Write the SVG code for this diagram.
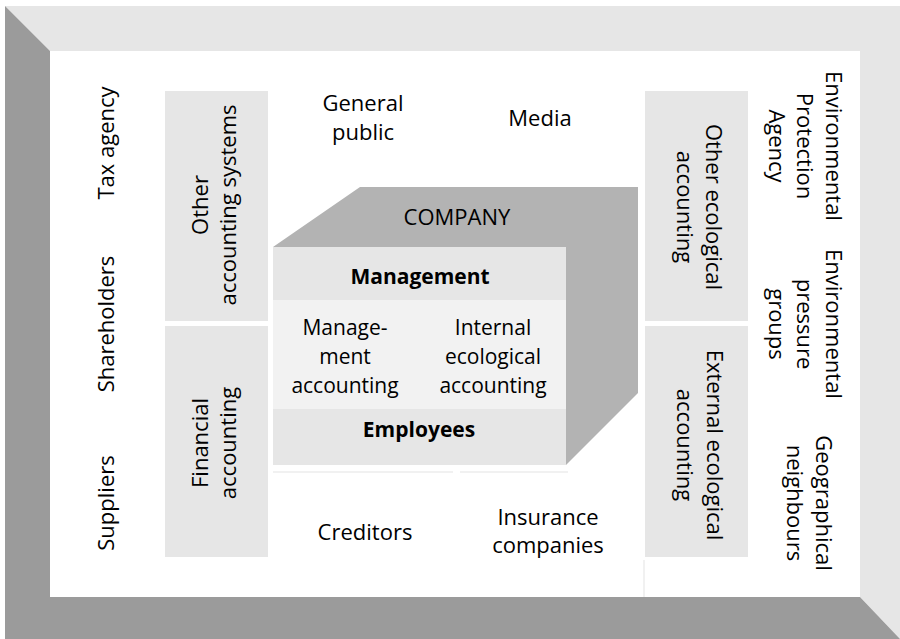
<svg xmlns="http://www.w3.org/2000/svg" width="900" height="639" viewBox="0 0 900 639">
<style>
text{font-family:"Open Sans","Noto Sans",sans-serif;font-size:22px;fill:#000;text-anchor:middle}
.b{font-weight:bold;font-size:21px}
.m{font-size:21px}
.box{fill:#e6e6e6}
.faint{stroke:#ececec;stroke-width:1.5;fill:none}
</style>
<rect width="900" height="639" fill="#fff"/>
<g id="frame">
<polygon points="5,6 900,6 900,639 860,597 860,51 50,51" fill="#e6e6e6"/>
<polygon points="5,6 50,51 50,597 860,597 900,639 5,639" fill="#9b9b9b"/>
<rect x="50" y="51" width="810" height="546" fill="#fff"/>
</g>
<g id="connectors">
<line class="faint" x1="273" y1="472" x2="453" y2="472"/>
<line class="faint" x1="460" y1="472" x2="568" y2="472"/>
<line class="faint" x1="644" y1="560" x2="644" y2="597"/>
</g>
<g id="tax-agency"><text transform="translate(114,143) rotate(-90)">Tax agency</text></g>
<g id="shareholders"><text transform="translate(114,324) rotate(-90)">Shareholders</text></g>
<g id="suppliers"><text transform="translate(114,503) rotate(-90)">Suppliers</text></g>
<g id="other-accounting">
<rect class="box" x="165" y="91" width="103" height="230"/>
<text transform="translate(208,205) rotate(-90)">Other</text>
<text transform="translate(236,205) rotate(-90)">accounting systems</text>
</g>
<g id="financial-accounting">
<rect class="box" x="165" y="326" width="103" height="231"/>
<text transform="translate(208,443) rotate(-90)">Financial</text>
<text transform="translate(236,443) rotate(-90)">accounting</text>
</g>
<g id="general-public"><text x="363" y="111">General</text><text x="363" y="140">public</text></g>
<g id="media"><text x="540" y="126">Media</text></g>
<g id="company">
<polygon points="273,247 360,187 638,187 638,393 566,465 566,247" fill="#b3b3b3"/>
<text x="457" y="225">COMPANY</text>
<rect x="273" y="247" width="293" height="53" fill="#e6e6e6"/>
<rect x="273" y="300" width="293" height="109" fill="#f2f2f2"/>
<rect x="273" y="409" width="293" height="56" fill="#e6e6e6"/>
</g>
<g id="management"><text class="b" x="420" y="284">Management</text></g>
<g id="management-accounting"><text class="m" x="345" y="335">Manage-</text><text class="m" x="345" y="364">ment</text><text class="m" x="345" y="393">accounting</text></g>
<g id="internal-ecological-accounting"><text class="m" x="493" y="335">Internal</text><text class="m" x="493" y="364">ecological</text><text class="m" x="493" y="393">accounting</text></g>
<g id="employees"><text class="b" x="419" y="437">Employees</text></g>
<g id="creditors"><text x="365" y="540">Creditors</text></g>
<g id="insurance-companies"><text x="548" y="525">Insurance</text><text x="548" y="553">companies</text></g>
<g id="other-ecological-accounting">
<rect class="box" x="645" y="91" width="103" height="230"/>
<text transform="translate(706,207) rotate(90)">Other ecological</text>
<text transform="translate(677,207) rotate(90)">accounting</text>
</g>
<g id="external-ecological-accounting">
<rect class="box" x="645" y="326" width="103" height="231"/>
<text transform="translate(707,445) rotate(90)">External ecological</text>
<text transform="translate(677,445) rotate(90)">accounting</text>
</g>
<g id="epa">
<text transform="translate(826,146) rotate(90)">Environmental</text>
<text transform="translate(797,146) rotate(90)">Protection</text>
<text transform="translate(769,146) rotate(90)">Agency</text>
</g>
<g id="pressure-groups">
<text transform="translate(826,324) rotate(90)">Environmental</text>
<text transform="translate(797,324) rotate(90)">pressure</text>
<text transform="translate(769,324) rotate(90)">groups</text>
</g>
<g id="neighbours">
<text transform="translate(816,503) rotate(90)">Geographical</text>
<text transform="translate(787,503) rotate(90)">neighbours</text>
</g>
</svg>
